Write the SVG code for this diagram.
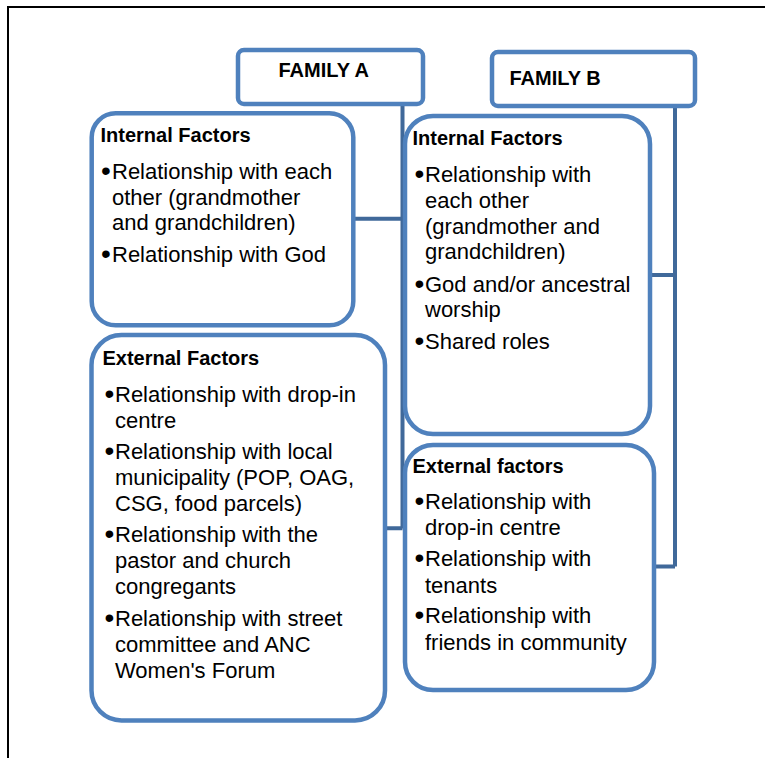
<svg xmlns="http://www.w3.org/2000/svg" width="765" height="758" viewBox="0 0 765 758">
<style>
.box{fill:#ffffff;stroke:#4F81BD;stroke-width:4.5}
.conn{fill:none;stroke:#40699A;stroke-width:4;stroke-linejoin:miter}
text{font-family:"Liberation Sans",Arial,sans-serif;fill:#000}
.h{font-weight:bold;font-size:20px}
.t{font-size:22px}
.b{font-size:28px}
</style>
<rect width="765" height="758" fill="#ffffff"/>
<path d="M8,770 V7 H775" fill="none" stroke="#000" stroke-width="2"/>
<g id="connectors">
<path class="conn" d="M402.5,104 V528.5 M353,218.7 H402.5 M385,528.3 H402.5"/>
<path class="conn" d="M675,106 V566.5 M650,275 H675 M654,566.5 H675"/>
</g>
<g id="familyA">
<rect class="box" x="238" y="50" width="185" height="54" rx="6"/>
<text class="h" x="278.5" y="77">FAMILY A</text>
</g>
<g id="familyB">
<rect class="box" x="492" y="52" width="203" height="54" rx="6"/>
<text class="h" x="509.5" y="85">FAMILY B</text>
</g>
<g id="internalA">
<rect class="box" x="91.7" y="113.3" width="261.6" height="212" rx="24"/>
<text class="h" x="100.5" y="141.5">Internal Factors</text>
<text class="b" x="101" y="180">•</text>
<text class="t" x="112" y="179">Relationship with each</text>
<text class="t" x="112" y="205">other (grandmother</text>
<text class="t" x="112" y="230">and grandchildren)</text>
<text class="b" x="101" y="263">•</text>
<text class="t" x="112" y="262">Relationship with God</text>
</g>
<g id="externalA">
<rect class="box" x="91.5" y="335" width="293.5" height="385.5" rx="30"/>
<text class="h" x="102.5" y="365">External Factors</text>
<text class="b" x="104.5" y="402.5">•</text>
<text class="t" x="115" y="401.5">Relationship with drop-in</text>
<text class="t" x="115" y="428">centre</text>
<text class="b" x="104.5" y="459.5">•</text>
<text class="t" x="115" y="458.5">Relationship with local</text>
<text class="t" x="115" y="485">municipality (POP, OAG,</text>
<text class="t" x="115" y="511">CSG, food parcels)</text>
<text class="b" x="104.5" y="543">•</text>
<text class="t" x="115" y="542">Relationship with the</text>
<text class="t" x="115" y="568">pastor and church</text>
<text class="t" x="115" y="594">congregants</text>
<text class="b" x="104.5" y="627">•</text>
<text class="t" x="115" y="626">Relationship with street</text>
<text class="t" x="115" y="652">committee and ANC</text>
<text class="t" x="115" y="678">Women's Forum</text>
</g>
<g id="internalB">
<rect class="box" x="405" y="116" width="245" height="318" rx="28"/>
<text class="h" x="412.5" y="145">Internal Factors</text>
<text class="b" x="414.5" y="183">•</text>
<text class="t" x="425" y="182">Relationship with</text>
<text class="t" x="425" y="208">each other</text>
<text class="t" x="425" y="234">(grandmother and</text>
<text class="t" x="425" y="259">grandchildren)</text>
<text class="b" x="414.5" y="293">•</text>
<text class="t" x="425" y="292">God and/or ancestral</text>
<text class="t" x="425" y="317">worship</text>
<text class="b" x="414.5" y="350">•</text>
<text class="t" x="425" y="349">Shared roles</text>
</g>
<g id="externalB">
<rect class="box" x="405" y="445" width="249" height="245" rx="28"/>
<text class="h" x="412.5" y="473">External factors</text>
<text class="b" x="414.5" y="510">•</text>
<text class="t" x="425" y="509">Relationship with</text>
<text class="t" x="425" y="535">drop-in centre</text>
<text class="b" x="414.5" y="567">•</text>
<text class="t" x="425" y="566">Relationship with</text>
<text class="t" x="425" y="593">tenants</text>
<text class="b" x="414.5" y="624">•</text>
<text class="t" x="425" y="623">Relationship with</text>
<text class="t" x="425" y="650">friends in community</text>
</g>
</svg>
